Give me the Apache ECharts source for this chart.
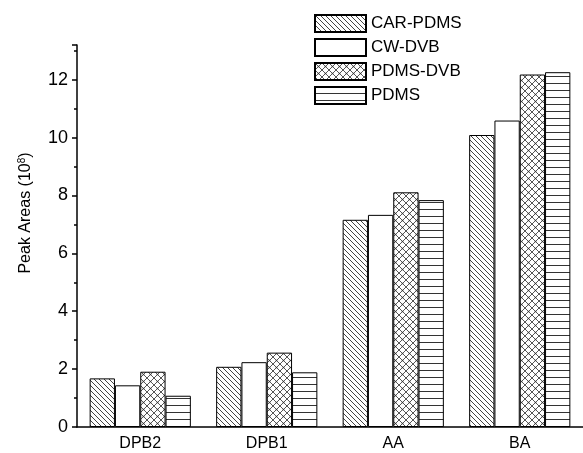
<!DOCTYPE html>
<html>
<head>
<meta charset="utf-8">
<script src="https://cdn.jsdelivr.net/npm/echarts@6/dist/echarts.min.js"></script>
<style>
html,body{margin:0;padding:0;background:#fff;}
#container{width:583px;height:453px;}
</style>
</head>
<body>
<div id="container"></div>
<script>
// categories and values (peak areas, 10^8)
var categories = ['DPB2', 'DPB1', 'AA', 'BA'];
var seriesNames = ['CAR-PDMS', 'CW-DVB', 'PDMS-DVB', 'PDMS'];
var carPdms = [1.68, 2.08, 7.16, 10.09];
var cwDvb = [1.44, 2.24, 7.33, 10.59];
var pdmsDvb = [1.91, 2.57, 8.11, 12.18];
var pdms = [1.08, 1.89, 7.84, 12.26];
var yTicks = [0, 2, 4, 6, 8, 10, 12];

// fill patterns
function makeTile(w, h, draw){
	var c = document.createElement('canvas');
	c.width = w; c.height = h;
	var ctx = c.getContext('2d');
	ctx.fillStyle = '#fff';
	ctx.fillRect(0, 0, w, h);
	draw(ctx, w, h);
	return {image: c, repeat: 'repeat'};
}
var diagFill = makeTile(5, 5, function(ctx, w, h){
	ctx.strokeStyle = '#444';
	ctx.lineWidth = 1;
	ctx.beginPath();
	ctx.moveTo(-1, -1); ctx.lineTo(w + 1, h + 1);
	ctx.moveTo(-1, h - 1); ctx.lineTo(1, h + 1);
	ctx.moveTo(w - 1, -1); ctx.lineTo(w + 1, 1);
	ctx.stroke();
});
var crossFill = makeTile(7, 7, function(ctx, w, h){
	ctx.strokeStyle = '#555';
	ctx.lineWidth = 1;
	ctx.beginPath();
	ctx.moveTo(0, 0); ctx.lineTo(w, h);
	ctx.moveTo(w, 0); ctx.lineTo(0, h);
	ctx.stroke();
	ctx.beginPath();
	ctx.arc(w / 2, h / 2, 0.8, 0, Math.PI * 2);
	ctx.fillStyle = '#333';
	ctx.fill();
});
var horizFill = makeTile(8, 7.7, function(ctx, w, h){
	ctx.strokeStyle = '#333';
	ctx.lineWidth = 1;
	ctx.beginPath();
	ctx.moveTo(0, 6.5); ctx.lineTo(w, 6.5);
	ctx.stroke();
});
var fills = [diagFill, '#fff', crossFill, horizFill];
var seriesData = [carPdms, cwDvb, pdmsDvb, pdms];

var myChart = echarts.init(document.getElementById('container'));
var font = 'Liberation Sans, Arial, sans-serif';
option = {
	animation: false,
	backgroundColor: '#fff',
	textStyle: {fontFamily: font, color: '#000'},
	legend: {
		orient: 'vertical',
		left: 309,
		top: 9,
		itemWidth: 51,
		itemHeight: 17,
		itemGap: 5,
		icon: 'rect',
		textStyle: {fontSize: 17, color: '#000', fontFamily: font},
		data: seriesNames
	},
	// y-axis title, sits a bit above the axis centre like the original
	graphic: [{
		type: 'text',
		x: 26,
		y: 213,
		rotation: Math.PI / 2,
		style: {
			text: '{a|Peak Areas (10}{s|8}{a|)}',
			align: 'center',
			verticalAlign: 'middle',
			rich: {
				a: {fontSize: 16, fill: '#000', fontFamily: font},
				s: {fontSize: 10, fill: '#000', fontFamily: font, padding: [0, 0, 8, 0]}
			}
		}
	}],
	grid: {left: 77, right: -7, top: 45, bottom: 26, containLabel: false},
	xAxis: [
		{
			type: 'category',
			data: categories,
			position: 'bottom',
			axisLine: {lineStyle: {color: '#000', width: 1.5}},
			axisTick: {alignWithLabel: true, length: 5, lineStyle: {color: '#000', width: 1.5}},
			axisLabel: {fontSize: 16, color: '#000', margin: 9, fontFamily: font}
		},
		{
			type: 'category',
			data: categories,
			position: 'bottom',
			axisLine: {show: false},
			axisTick: {length: 3, lineStyle: {color: '#000', width: 1.5}},
			axisLabel: {show: false}
		}
	],
	yAxis: {
		type: 'value',
		min: 0,
		max: 13.2,
		interval: 2,
		axisLine: {show: true, lineStyle: {color: '#000', width: 1.5}},
		axisTick: {show: true, length: 5, lineStyle: {color: '#000', width: 1.5}},
		minorTick: {show: true, splitNumber: 2, length: 3, lineStyle: {color: '#000', width: 1.5}},
		splitLine: {show: false},
		axisLabel: {
			fontSize: 18, color: '#000', margin: 9, fontFamily: font,
			showMaxLabel: false,
			formatter: function(v){ return yTicks.indexOf(v) >= 0 ? String(v) : ''; }
		}
	},
	series: function(){
		var arr = [];
		for (var i = 0; i < seriesNames.length; ++i) {
			arr.push({
				name: seriesNames[i],
				type: 'bar',
				xAxisIndex: 0,
				barGap: '0%',
				barCategoryGap: '20%',
				itemStyle: {color: fills[i], borderColor: '#000', borderWidth: 1},
				emphasis: {disabled: true},
				data: seriesData[i]
			});
		}
		return arr;
	}()
};
myChart.setOption(option);
</script>
</body>
</html>
